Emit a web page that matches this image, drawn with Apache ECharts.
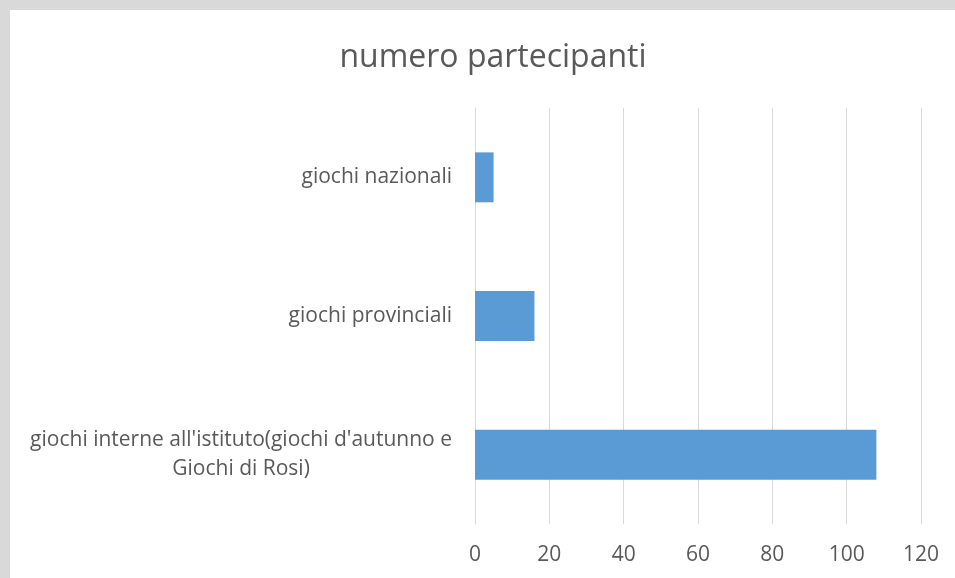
<!DOCTYPE html>
<html>
<head>
<meta charset="utf-8">
<script src="https://cdn.jsdelivr.net/npm/echarts@6/dist/echarts.min.js"></script>
<style>
  html, body {
    margin: 0;
    padding: 0;
    background: #d9d9d9;
    overflow: hidden;
  }
  #chart {
    position: absolute;
    left: 10px;
    top: 10px;
    width: 945px;
    height: 568px;
    background: #fff;
  }
</style>
</head>
<body>
<div id="chart"></div>
<script>
// dati (dal basso verso l'alto)
const categories = [
  "giochi interne all'istituto(giochi d'autunno e\nGiochi di Rosi)",
  'giochi provinciali',
  'giochi nazionali'
]
const partecipanti = [108, 16, 5]
const titolo = 'numero partecipanti'

const chart = echarts.init(document.getElementById('chart'))

const option = {
  animation: false,
  title: {
    text: titolo,
    left: 478,
    top: 27,
    textAlign: 'center',
    textStyle: {
      fontFamily: 'Open Sans',
      fontSize: 32,
      fontWeight: 'normal',
      color: '#595959'
    }
  },
  grid: {
    left: 465,
    right: 34,
    top: 98,
    bottom: 54
  },
  xAxis: {
    type: 'value',
    min: 0,
    max: 120,
    interval: 20,
    axisLine: { show: false },
    axisTick: { show: false },
    splitLine: { lineStyle: { color: '#d9d9d9', width: 1 } },
    axisLabel: {
      margin: 21,
      fontFamily: 'Open Sans',
      fontSize: 21,
      color: '#595959'
    }
  },
  yAxis: {
    type: 'category',
    data: categories,
    axisLine: { show: true, lineStyle: { color: '#d9d9d9' } },
    axisTick: { show: false },
    axisLabel: {
      margin: 23,
      formatter: v => v.split('\n').map(s => '{c|' + s + '}').join('\n'),
      rich: {
        c: {
          align: 'center',
          fontFamily: 'Open Sans',
          fontSize: 21,
          lineHeight: 29,
          color: '#595959'
        }
      }
    }
  },
  series: [
    {
      name: titolo,
      type: 'bar',
      barWidth: '36%',
      itemStyle: { color: '#5b9bd5' },
      data: partecipanti
    }
  ]
}

chart.setOption(option)
</script>
</body>
</html>
